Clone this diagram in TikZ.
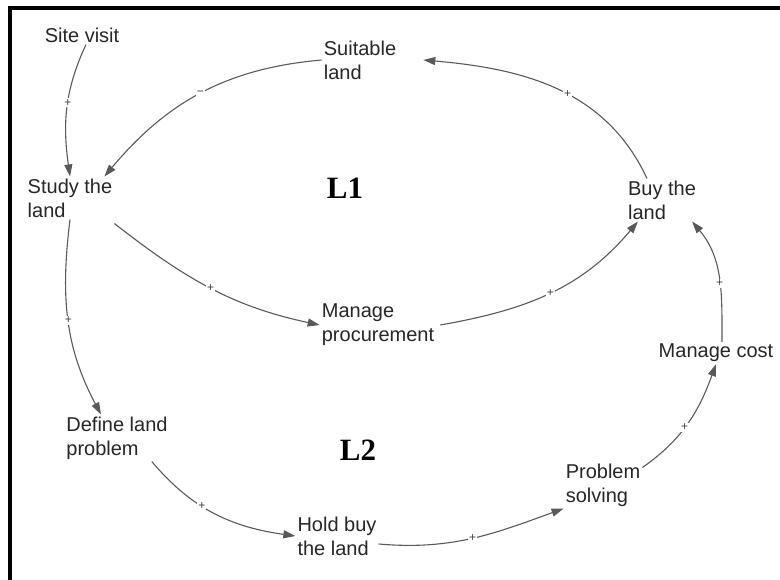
\documentclass[tikz,border=0pt]{standalone}
\usepackage{fontspec}
\setmainfont{Liberation Sans}
\newfontfamily\loopfont{Liberation Serif}
\usetikzlibrary{arrows.meta}
\tikzset{
  var/.style={align=left, inner sep=2pt, text=black!85, font=\fontsize{20}{24}\selectfont},
  link/.style={draw=black!65, line width=1.1pt, -{Triangle[length=12pt,width=8pt]}},
  sign/.style={fill=white, inner sep=1pt, text=black!75, font=\fontsize{12}{12}\selectfont},
  looplabel/.style={font=\loopfont\bfseries\fontsize{31}{31}\selectfont}
}
\begin{document}
\begin{tikzpicture}[x=1pt,y=1pt]
            \useasboundingbox (0,0) rectangle (780,-580);
            \draw[line width=4pt] (10,-580) -- (10,-8) -- (780,-8);

            \node[var] (S) at (82,-35) {Site visit};
            \node[var] (U) at (360,-60) {Suitable\\land};
            \node[var] (T) at (70,-198) {Study the\\land};
            \node[var] (B) at (662,-200) {Buy the\\land};
            \node[var] (P) at (378,-325) {Manage\\procurement};
            \node[var] (C) at (716,-353) {Manage cost};
            \node[var] (D) at (117,-438) {Define land\\problem};
            \node[var] (H) at (337,-536) {Hold buy\\the land};
            \node[var] (R) at (603,-485) {Problem\\solving};
            \node[looplabel] (L1) at (345,-188) {L1};
            \node[looplabel] (L2) at (358,-450) {L2};

            \draw[link] ([xshift=4pt]S.south) to[out=-115,in=98] node[sign,pos=0.45] {+} (T.north);
            \draw[link] (U.west) to[out=185,in=50] node[sign,pos=0.5] {−} ([xshift=-10pt]T.north east);
            \draw[link] ([xshift=-15pt]B.north) to[out=115,in=-5] node[sign,pos=0.45] {+} ([xshift=25pt]U.east);
            \draw[link] ([yshift=-4pt]T.south east) to[out=-38,in=168] node[sign,pos=0.5] {+} (P.west);
            \draw[link] ([xshift=4pt]P.east) to[out=10,in=-130] node[sign,pos=0.5] {+} ([xshift=12pt]B.south west);
            \draw[link] (T.south) to[out=-97,in=118] node[sign,pos=0.5] {+} ([xshift=-16pt]D.north);
            \draw[link] ([xshift=-18pt]D.south east) to[out=-50,in=172] node[sign,pos=0.4] {+} (H.west);
            \draw[link] ([yshift=-8pt]H.east) to[out=-5,in=200] node[sign,pos=0.5] {+} (R.south west);
            \draw[link] ([yshift=-6pt]R.north east) to[out=35,in=-110] node[sign,pos=0.45] {+} (C.south);
            \draw[link] ([xshift=6pt]C.north) to[out=90,in=-50] node[sign,pos=0.45] {+} ([xshift=-6pt]B.south east);
\end{tikzpicture}
\end{document}
